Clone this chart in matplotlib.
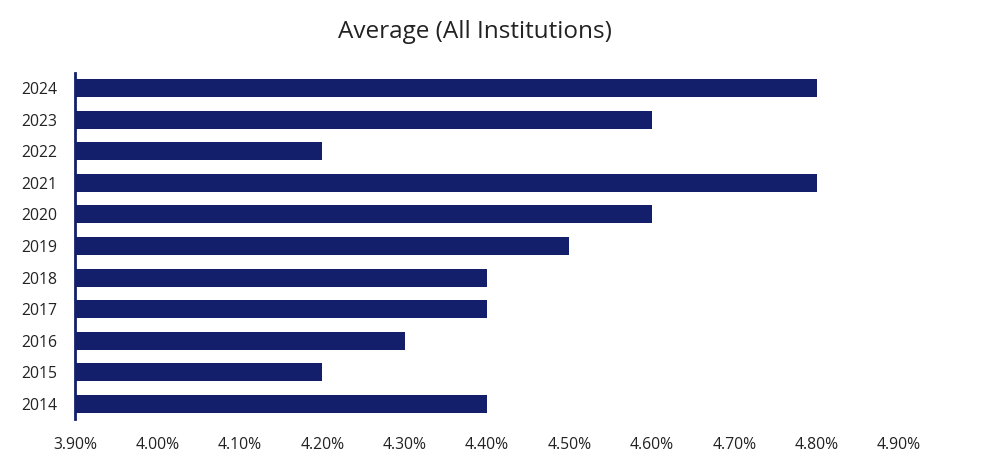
import matplotlib
matplotlib.use("Agg")
import matplotlib.pyplot as plt
from matplotlib.ticker import FuncFormatter

years = ["2014", "2015", "2016", "2017", "2018", "2019", "2020", "2021", "2022", "2023", "2024"]
values = [4.40, 4.20, 4.30, 4.40, 4.40, 4.50, 4.60, 4.80, 4.20, 4.60, 4.80]
xticks = [3.9, 4.0, 4.1, 4.2, 4.3, 4.4, 4.5, 4.6, 4.7, 4.8, 4.9]

plt.rcParams['font.family'] = ['Open Sans', 'DejaVu Sans']

fig = plt.figure(figsize=(9.92, 4.68), dpi=100)
ax = fig.add_axes([75/992, 1-419/468, (899-75)/992, (419-73)/468])

base = 3.9
ax.barh(range(len(years)), [v - base for v in values], left=base, height=0.57, color="#141F6B")
ax.set_xlim(3.9, 4.9)
ax.set_ylim(-0.48, len(years) - 0.52)
ax.set_yticks(range(len(years)))
ax.set_yticklabels(years)
ax.set_xticks(xticks)
ax.xaxis.set_major_formatter(FuncFormatter(lambda x, p: f"{x:.2f}%"))

for s in ["top", "right", "bottom"]:
    ax.spines[s].set_visible(False)
ax.spines["left"].set_color("#141F6B")
ax.spines["left"].set_linewidth(2)
ax.tick_params(axis="both", length=0, labelsize=11.3, colors="#222222")
ax.tick_params(axis="x", pad=13)
ax.tick_params(axis="y", pad=13)

fig.text(475/992, 1-32/468, "Average (All Institutions)", ha="center", va="center", fontsize=17.5, color="#222222")

fig.savefig("out.png", dpi=100)
